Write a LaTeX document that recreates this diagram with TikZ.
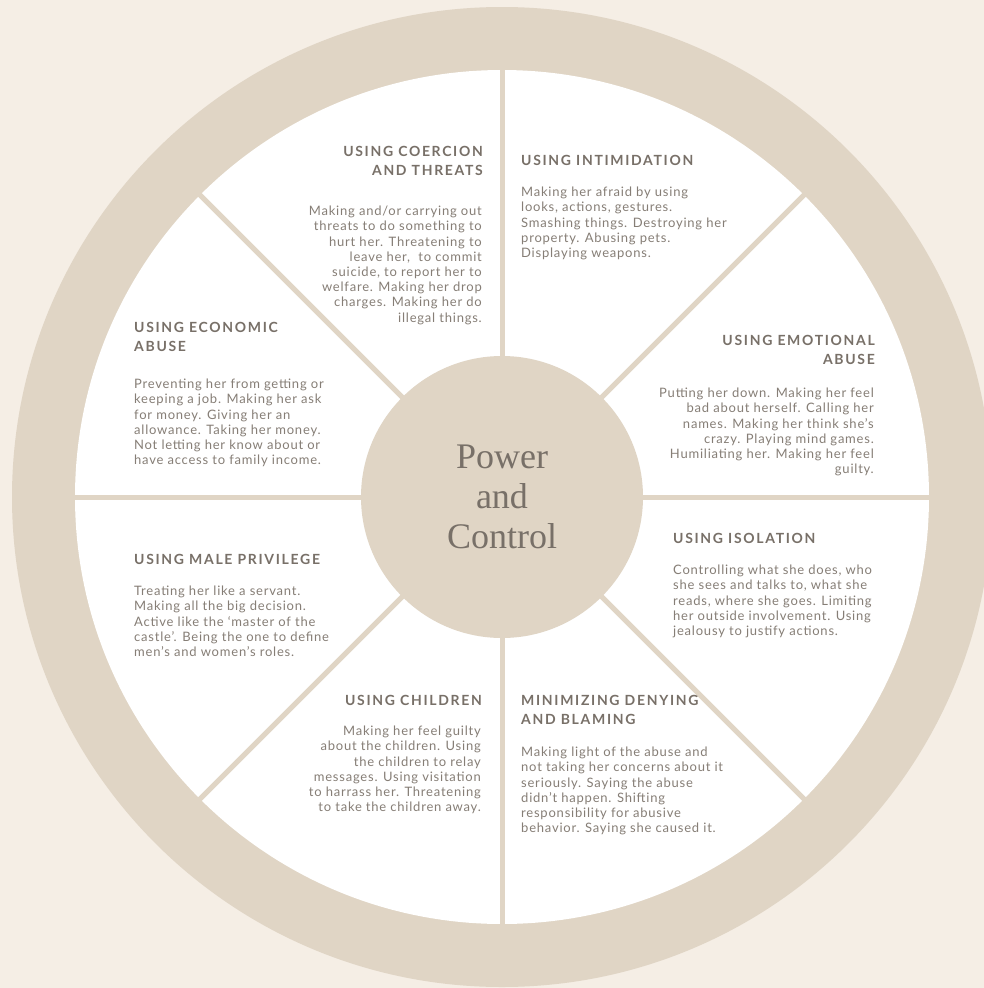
\documentclass[tikz,border=0pt]{standalone}
\usepackage{fontspec}
\usetikzlibrary{calc}
\setmainfont{Lato}
\newfontfamily\bodyfont[LetterSpace=6]{Lato}
\newfontfamily\headfont[LetterSpace=12]{Lato}
\newfontfamily\hubfont{Liberation Serif}
\definecolor{bg}{RGB}{245,238,229}
\definecolor{ringc}{RGB}{224,213,197}
\definecolor{txt}{RGB}{134,126,118}
\definecolor{headc}{RGB}{120,112,104}
\begin{document}
\begin{tikzpicture}[x=1pt,y=-1pt,
  body/.style={inner sep=0pt, text=txt, font=\bodyfont\fontsize{13}{15.2}\selectfont},
  bodyL/.style={body, align=left, anchor=north west},
  bodyR/.style={body, align=right, anchor=north east},
  head/.style={inner sep=0pt, text=headc, font=\headfont\bfseries\fontsize{14}{19}\selectfont},
  headL/.style={head, align=left, anchor=north west},
  headR/.style={head, align=right, anchor=north east},
  spoke/.style={draw=ringc, line width=5pt}]
\useasboundingbox (0,0) rectangle (984,988);
\fill[bg] (0,0) rectangle (984,988);
\begin{scope}
\clip (0,0) rectangle (984,988);
\fill[ringc] (502,497) circle (490);
\end{scope}
\fill[white] (502,497) circle (427);
\coordinate (c) at (502,497);
\foreach \a [count=\i] in {0,45,...,315} {
  \coordinate (s\i) at ($(c)+(\a:430)$);
  \draw[spoke] (c) -- (s\i);
}
\node[circle, fill=ringc, minimum size=282, inner sep=0pt] (hub) at (c) {};
\node[inner sep=0pt, align=center, text=headc, font=\hubfont\fontsize{36}{40}\selectfont] (hubtext) at (502,497) {Power\\and\\Control};

% coercion
\node[headR] (h1) at (483,146) {USING COERCION\\AND THREATS};
\node[bodyR] (b1) at (482,206) {Making and/or carrying out\\threats to do something to\\hurt her. Threatening to\\leave her,\ \ to commit\\suicide, to report her to\\welfare. Making her drop\\charges. Making her do\\illegal things.};
% intimidation
\node[headL] (h2) at (521,155) {USING INTIMIDATION};
\node[bodyL] (b2) at (521,187) {Making her afraid by using\\looks, actions, gestures.\\Smashing things. Destroying her\\property. Abusing pets.\\Displaying weapons.};
% emotional
\node[headR] (h3) at (875,335) {USING EMOTIONAL\\ABUSE};
\node[bodyR] (b3) at (874,388) {Putting her down. Making her feel\\bad about herself. Calling her\\names. Making her think she’s\\crazy. Playing mind games.\\Humiliating her. Making her feel\\guilty.};
% economic
\node[headL] (h4) at (134,322) {USING ECONOMIC\\ABUSE};
\node[bodyL] (b4) at (134,379) {Preventing her from getting or\\keeping a job. Making her ask\\for money. Giving her an\\allowance. Taking her money.\\Not letting her know about or\\have access to family income.};
% male privilege
\node[headL] (h5) at (134,554) {USING MALE PRIVILEGE};
\node[bodyL] (b5) at (134,586) {Treating her like a servant.\\Making all the big decision.\\Active like the ‘master of the\\castle’. Being the one to define\\men’s and women’s roles.};
% isolation
\node[headL] (h6) at (673,533) {USING ISOLATION};
\node[bodyL] (b6) at (673,565) {Controlling what she does, who\\she sees and talks to, what she\\reads, where she goes. Limiting\\her outside involvement. Using\\jealousy to justify actions.};
% children
\node[headR] (h7) at (482,695) {USING CHILDREN};
\node[bodyR] (b7) at (481,726) {Making her feel guilty\\about the children. Using\\the children to relay\\messages. Using visitation\\to harrass her. Threatening\\to take the children away.};
% minimizing
\node[headL] (h8) at (521,695) {MINIMIZING DENYING\\AND BLAMING};
\node[bodyL] (b8) at (521,747) {Making light of the abuse and\\not taking her concerns about it\\seriously. Saying the abuse\\didn’t happen. Shifting\\responsibility for abusive\\behavior. Saying she caused it.};
\end{tikzpicture}
\end{document}
